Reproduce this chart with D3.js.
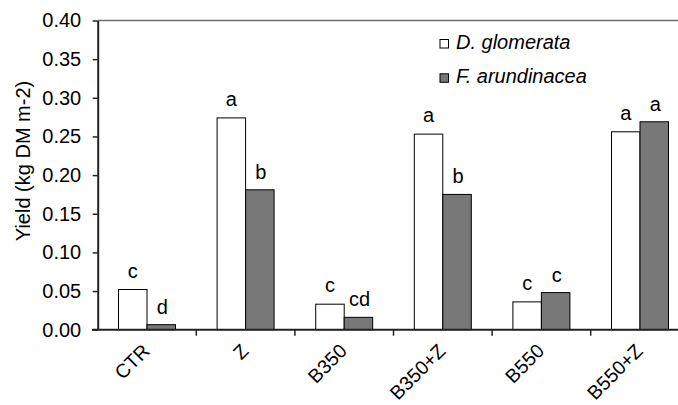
<!DOCTYPE html>
<html>
<head>
<meta charset="utf-8">
<script src="https://cdn.jsdelivr.net/npm/d3@7"></script>
<style>
  body { margin: 0; background: #fff; }
  svg { display: block; font-family: "Liberation Sans", Arial, sans-serif; }
</style>
</head>
<body>
<div id="chart"></div>
<script>
// treatments on the x axis
var treatments = ["CTR", "Z", "B350", "B350+Z", "B550", "B550+Z"];
// yield values (kg DM m-2)
var glomerata = [0.052, 0.274, 0.033, 0.253, 0.036, 0.256];
var arundinacea = [0.0065, 0.181, 0.016, 0.175, 0.048, 0.269];
// significance letters above each bar
var glomLetters = ["c", "a", "c", "a", "c", "a"];
var arunLetters = ["d", "b", "cd", "b", "c", "a"];
var yTicks = [0, 0.05, 0.10, 0.15, 0.20, 0.25, 0.30, 0.35, 0.40];
var seriesNames = ["D. glomerata", "F. arundinacea"];

var W = 678, H = 405;
var svg = d3.select("#chart").append("svg")
  .attr("width", W)
  .attr("height", H);

// plot runs a bit past the right edge like the original crop
var x = d3.scaleBand().domain(treatments).range([97.7, 689.3]).padding(0);
var y = d3.scaleLinear().domain([0, 0.40]).range([329.7, 20.5]);
var barW = 28.5;
var fills = ["#ffffff", "#787878"];
var fs = "20px";

// top border
svg.append("line")
  .attr("x1", 97.7).attr("x2", W)
  .attr("y1", y(0.40)).attr("y2", y(0.40))
  .attr("stroke", "#6e6e6e").attr("stroke-width", 1.5);

// bars
var groups = svg.selectAll(".grp")
  .data(treatments)
  .enter().append("g")
  .attr("class", "grp");

groups.append("rect")
  .attr("x", function(d) { return x(d) + x.bandwidth() / 2 - barW; })
  .attr("y", function(d, i) { return y(glomerata[i]); })
  .attr("width", barW)
  .attr("height", function(d, i) { return y(0) - y(glomerata[i]); })
  .attr("fill", fills[0])
  .attr("stroke", "#000").attr("stroke-width", 1);

groups.append("rect")
  .attr("x", function(d) { return x(d) + x.bandwidth() / 2; })
  .attr("y", function(d, i) { return y(arundinacea[i]); })
  .attr("width", barW)
  .attr("height", function(d, i) { return y(0) - y(arundinacea[i]); })
  .attr("fill", fills[1])
  .attr("stroke", "#000").attr("stroke-width", 1);

// letters
groups.append("text")
  .attr("x", function(d) { return x(d) + x.bandwidth() / 2 - barW / 2; })
  .attr("y", function(d, i) { return y(glomerata[i]) - 12; })
  .attr("text-anchor", "middle")
  .style("font-size", fs)
  .text(function(d, i) { return glomLetters[i]; });

groups.append("text")
  .attr("x", function(d) { return x(d) + x.bandwidth() / 2 + barW / 2 + 1; })
  .attr("y", function(d, i) { return y(arundinacea[i]) - 11; })
  .attr("text-anchor", "middle")
  .style("font-size", fs)
  .text(function(d, i) { return arunLetters[i]; });

// y axis
var yAxis = svg.append("g")
  .attr("transform", "translate(97.7,0)")
  .call(d3.axisLeft(y).tickValues(yTicks).tickFormat(d3.format(".2f")).tickSize(5).tickSizeOuter(0));
yAxis.select(".domain").attr("stroke", "#222").attr("stroke-width", 2);
yAxis.selectAll(".tick line").attr("stroke", "#222").attr("stroke-width", 1.5);
yAxis.selectAll(".tick text")
  .attr("x", -16.5)
  .attr("fill", "#000")
  .style("font-size", fs)
  .style("font-family", "Liberation Sans, Arial, sans-serif");

// x axis: ticks between categories
var xAxis = svg.append("g")
  .attr("transform", "translate(0," + y(0) + ")");
xAxis.append("line")
  .attr("x1", 92).attr("x2", W)
  .attr("stroke", "#222").attr("stroke-width", 2);
xAxis.selectAll(".xt")
  .data(treatments)
  .enter().append("line")
  .attr("x1", function(d) { return x(d) + x.bandwidth(); })
  .attr("x2", function(d) { return x(d) + x.bandwidth(); })
  .attr("y1", 0).attr("y2", 6)
  .attr("stroke", "#222").attr("stroke-width", 1.5);
// labels kept just inside the bottom edge
xAxis.selectAll(".xl")
  .data(treatments)
  .enter().append("text")
  .attr("text-anchor", "end")
  .attr("transform", function(d) {
    return "translate(" + (x(d) + x.bandwidth() / 2 + 4) + ",22.5) rotate(-45)";
  })
  .style("font-size", "19.5px")
  .text(function(d) { return d; });

// y title
svg.append("text")
  .attr("transform", "translate(30,161) rotate(-90)")
  .attr("text-anchor", "middle")
  .style("font-size", fs)
  .text("Yield (kg DM m-2)");

// legend
var legend = svg.selectAll(".leg")
  .data(seriesNames)
  .enter().append("g")
  .attr("transform", function(d, i) { return "translate(440," + (39.5 + i * 34.3) + ")"; });
legend.append("rect")
  .attr("width", 8.5).attr("height", 8.5)
  .attr("fill", function(d, i) { return fills[i]; })
  .attr("stroke", "#000").attr("stroke-width", 1);
legend.append("text")
  .attr("x", 16).attr("y", 9)
  .style("font-size", fs)
  .style("font-style", "italic")
  .text(function(d) { return d; });
</script>
</body>
</html>
